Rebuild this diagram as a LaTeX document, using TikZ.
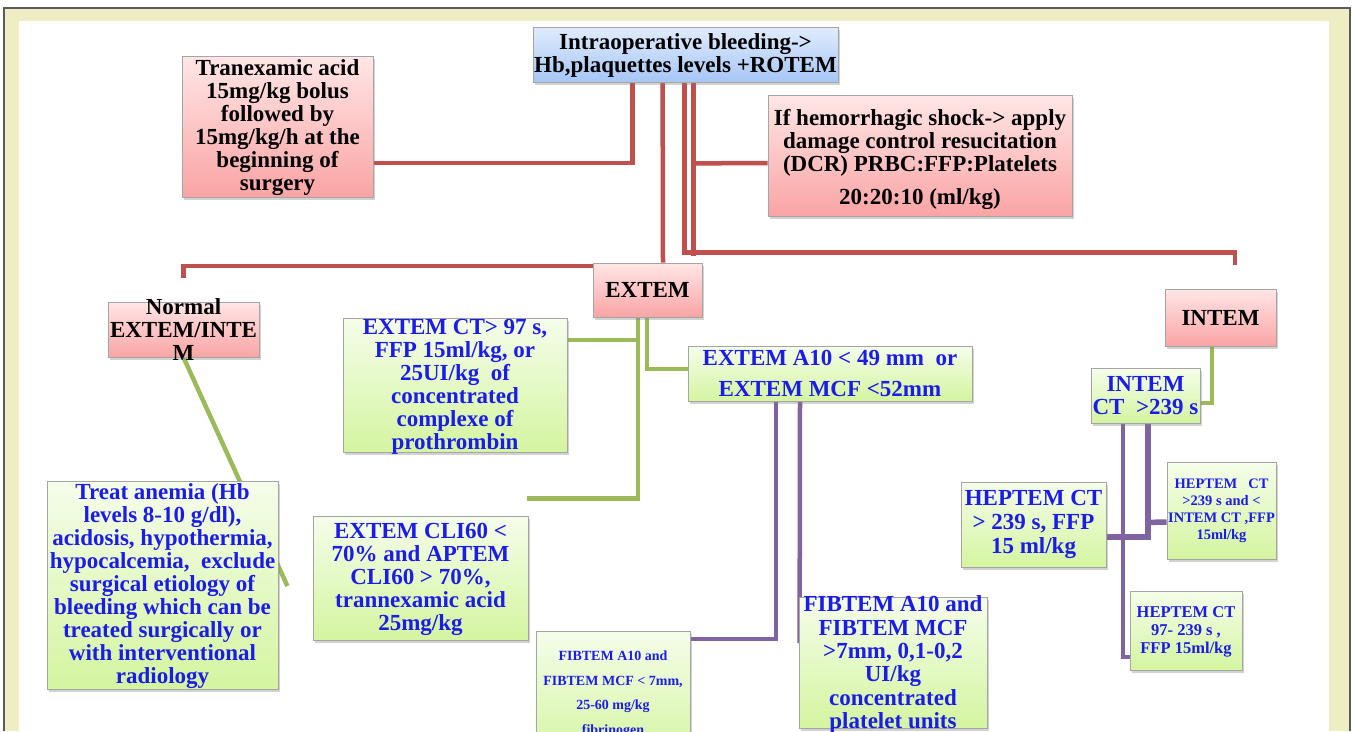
\documentclass[tikz,border=0pt]{standalone}
\usepackage{fontspec}
\setmainfont{Liberation Serif}
\usetikzlibrary{shadows}
\pgfdeclarelayer{back}
\pgfdeclarelayer{bg}
\pgfsetlayers{back,bg,main}
\definecolor{beige}{RGB}{239,237,195}
\definecolor{frameline}{RGB}{90,90,90}
\definecolor{pinkT}{RGB}{255,230,230}
\definecolor{pinkB}{RGB}{250,164,164}
\definecolor{blueT}{RGB}{224,236,253}
\definecolor{blueB}{RGB}{166,198,245}
\definecolor{greenT}{RGB}{245,253,234}
\definecolor{greenB}{RGB}{212,245,160}
\definecolor{txtblue}{RGB}{28,28,232}
\definecolor{redline}{RGB}{192,80,77}
\definecolor{greenline}{RGB}{155,187,89}
\definecolor{purpleline}{RGB}{128,100,162}
\definecolor{boxedge}{RGB}{165,165,165}
\newcommand\fbig{\fontsize{23}{23}\selectfont\bfseries}
\newcommand\fhepct{\fontsize{23}{24}\selectfont\bfseries}
\newcommand\fhepsm{\fontsize{14.5}{17}\selectfont\bfseries}
\newcommand\fhepnn{\fontsize{16.5}{18}\selectfont\bfseries}
\newcommand\ffibsm{\fontsize{14}{24.5}\selectfont\bfseries}
\newcommand\ffibpl{\fontsize{23}{23.4}\selectfont\bfseries}
\tikzset{
  box/.style={draw=boxedge, line width=0.8pt, inner sep=0pt,
    drop shadow={shadow xshift=2pt, shadow yshift=-3pt, opacity=0.35}},
  pinkbox/.style={box, top color=pinkT, bottom color=pinkB},
  bluebox/.style={box, top color=blueT, bottom color=blueB},
  greenbox/.style={box, top color=greenT, bottom color=greenB},
  sz/.style 2 args={minimum width=#1pt, minimum height=#2pt},
  blk/.style={align=center, inner sep=0pt, text=black, font=\fbig},
  blu/.style={align=center, inner sep=0pt, text=txtblue, font=\fbig},
  redl/.style={draw=redline, line width=4.5pt},
  greenl/.style={draw=greenline, line width=4.5pt},
  purpl/.style={draw=purpleline, line width=4.5pt},
}
\begin{document}
\begin{tikzpicture}[x=1pt, y=-1pt]
\useasboundingbox (0,0) rectangle (1357,731);
\clip (0,0) rectangle (1357,731);
\begin{pgfonlayer}{back}
\fill[white] (0,0) rectangle (1357,731);
\fill[beige] (5,9) rectangle (1349,731);
\fill[white] (19,21) rectangle (1329,731);
\draw[frameline, line width=1.2pt] (4,731) -- (4,8) -- (1350,8) -- (1350,731);
\end{pgfonlayer}

% boxes
\node[bluebox, sz={305}{55}] (top) at (685.5,54.5) {};
\node[pinkbox, sz={191}{141}] (tranex) at (277.5,126.5) {};
\node[pinkbox, sz={304}{121}] (shock) at (920,155.5) {};
\node[pinkbox, sz={109}{54}] (extem) at (647.5,290) {};
\node[pinkbox, sz={111}{57}] (intem) at (1220.5,317.5) {};
\node[pinkbox, sz={151}{55}] (normal) at (183.5,329.5) {};
\node[greenbox, sz={224}{134}] (extct) at (455,385) {};
\node[greenbox, sz={284}{55}] (a10) at (830,373.5) {};
\node[greenbox, sz={109}{55}] (intct) at (1145.5,395.5) {};
\node[greenbox, sz={231}{208}] (anemia) at (162.5,585) {};
\node[greenbox, sz={215}{124}] (cli) at (420.5,578) {};
\node[greenbox, sz={154}{129}] (fibsmall) at (613,695.5) {};
\node[greenbox, sz={188}{131}] (fibplt) at (893,662.5) {};
\node[greenbox, sz={145}{85}] (hepct) at (1033.5,524.5) {};
\node[greenbox, sz={109}{97}] (hepsm) at (1221.5,510.5) {};
\node[greenbox, sz={112}{79}] (hep97) at (1186,630.5) {};

% texts
\node[blk] (t-top) at ([yshift=-1pt]top.center) {Intraoperative bleeding->\\Hb,plaquettes levels +ROTEM};
\node[blk] (t-tranex) at ([yshift=-1.5pt]tranex.center) {Tranexamic acid\\15mg/kg bolus\\followed by\\15mg/kg/h at the\\beginning of\\surgery};
\node[blk] (t-shock) at ([yshift=-4pt]shock.center) {If hemorrhagic shock-> apply\\damage control resucitation\\(DCR) PRBC:FFP:Platelets\\[10pt]20:20:10 (ml/kg)};
\node[blk] (t-extem) at (extem.center) {EXTEM};
\node[blk] (t-intem) at (intem.center) {INTEM};
\node[blk] (t-normal) at (normal.center) {Normal\\EXTEM/INTE\\M};
\node[blu] (t-extct) at ([yshift=-2pt]extct.center) {EXTEM CT> 97 s,\\FFP 15ml/kg, or\\25UI/kg\ \ of\\concentrated\\complexe of\\prothrombin};
\node[blu] (t-a10) at (a10.center) {EXTEM A10 < 49 mm\ \ or\\[8pt]EXTEM MCF <52mm};
\node[blu] (t-intct) at (intct.center) {INTEM\\CT\ \ >239 s};
\node[blu] (t-anemia) at ([yshift=-1.5pt]anemia.center) {Treat anemia (Hb\\levels 8-10 g/dl),\\acidosis, hypothermia,\\hypocalcemia,\ \ exclude\\surgical etiology of\\bleeding which can be\\treated surgically or\\with interventional\\radiology};
\node[blu] (t-cli) at ([yshift=-1pt]cli.center) {EXTEM CLI60 <\\70\% and APTEM\\CLI60 > 70\%,\\trannexamic acid\\25mg/kg};
\node[blu, font=\ffibsm, anchor=north] (t-fibsmall) at ([yshift=-20pt]fibsmall.north) {FIBTEM A10 and\\FIBTEM MCF < 7mm,\\25-60 mg/kg\\fibrinogen};
\node[blu, font=\ffibpl, anchor=north] (t-fibplt) at ([yshift=1pt]fibplt.north) {FIBTEM A10 and\\FIBTEM MCF\\>7mm, 0,1-0,2\\UI/kg\\concentrated\\platelet units};
\node[blu, font=\fhepct] (t-hepct) at (hepct.center) {HEPTEM CT\\> 239 s, FFP\\15 ml/kg};
\node[blu, font=\fhepsm] (t-hepsm) at (hepsm.center) {HEPTEM\ \ \ CT\\>239 s and <\\INTEM CT ,FFP\\15ml/kg};
\node[blu, font=\fhepnn] (t-hep97) at ([yshift=-1.5pt]hep97.center) {HEPTEM CT\\97- 239 s ,\\FFP 15ml/kg};

% connectors
\begin{pgfonlayer}{bg}
\draw[redl] ([xshift=100pt]top.south west) |- ([yshift=-36.5pt]tranex.east);
\draw[redl] ([xshift=130pt]top.south west) -- ([xshift=15.5pt]extem.north);
\draw[redl] ([xshift=161pt]top.south west) -- ([xshift=161pt,yshift=-174pt]top.south west);
\draw[redl] ([xshift=161pt,yshift=-81pt]top.south west) -- ([yshift=-7.5pt]shock.west);
\draw[redl] ([xshift=152pt]top.south west) |- ([xshift=14.5pt,yshift=36pt]intem.north) -- ([xshift=14.5pt,yshift=24pt]intem.north);
\draw[redl] ([yshift=24pt]extem.west) -| ([yshift=24pt]normal.north);

\draw[greenl] (normal.south) -- ([xshift=9pt,yshift=-1pt]anemia.east);
\draw[greenl] ([xshift=-9.5pt]extem.south) |- ([xshift=106.5pt,yshift=17pt]cli.north);
\draw[greenl] ([yshift=45pt]extct.east) -| ([xshift=-9.5pt]extem.south);
\draw[greenl] ([xshift=-0.5pt]extem.south) |- ([yshift=4.5pt]a10.west);
\draw[greenl] ([xshift=-8.5pt]intem.south) |- ([yshift=-7.5pt]intct.east);

\draw[purpl] ([xshift=-54pt]a10.south) |- ([yshift=56.5pt]fibsmall.east);
\draw[purpl] ([xshift=-30pt]a10.south) -- ([xshift=1pt,yshift=19.5pt]fibplt.west);
\draw[purpl, line width=5.5pt] ([xshift=2.5pt]intct.south) |- ([yshift=-12.5pt]hepct.east);
\draw[purpl, line width=5.5pt] ([xshift=2.5pt,yshift=-99pt]intct.south) -- ([yshift=-11.5pt]hepsm.west);
\draw[purpl] ([xshift=-22.5pt]intct.south) |- ([yshift=-26.5pt]hep97.west);
\end{pgfonlayer}
\end{tikzpicture}
\end{document}
